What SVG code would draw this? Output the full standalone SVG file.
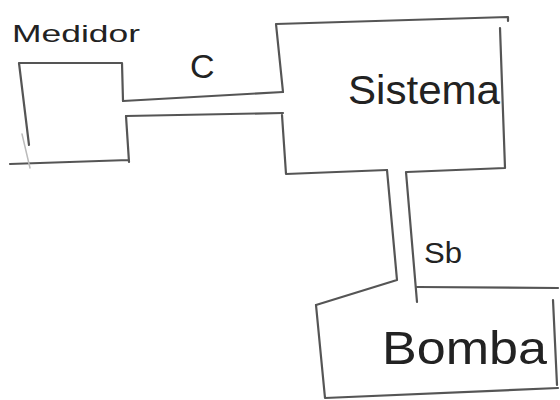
<svg xmlns="http://www.w3.org/2000/svg" width="560" height="400" viewBox="0 0 560 400">
<style>
.ln{fill:none;stroke:#555;stroke-width:2.2;stroke-linecap:round;stroke-linejoin:round}
.faint{fill:none;stroke:#bbb;stroke-width:1.5;stroke-linecap:round}
.t{font-family:"Liberation Sans",Arial,sans-serif;fill:#222}
</style>
<rect width="560" height="400" fill="#fff"/>
<g id="medidor">
<path class="ln" d="M29,145 L19,63 L122,63 L123,101 M126,116 L129,162 M10,164 L129,160"/>
<path class="faint" d="M22,134 L30,168"/>
<text class="t" x="12" y="42" font-size="24" textLength="128" lengthAdjust="spacingAndGlyphs">Medidor</text>
</g>
<g id="sistema">
<path class="ln" d="M283,92 L276,24 L508,17 L508,21 M500,28 L505,168 L407,172 M387,170 L286,174 L282,115"/>
<text class="t" x="348" y="104" font-size="40" textLength="152" lengthAdjust="spacingAndGlyphs">Sistema</text>
</g>
<g id="bomba">
<path class="ln" d="M316,305 L325,398 L558,388 M417,287 L558,288 M553,300 L557,385"/>
<text class="t" x="382" y="364" font-size="46" textLength="165" lengthAdjust="spacingAndGlyphs">Bomba</text>
</g>
<g id="connectors">
<path class="ln" d="M123,101 L283,92 M126,116 L283,113"/>
<path class="ln" d="M387,170 L397,280 L316,305 M406,172 L417,302"/>
<text class="t" x="190" y="78" font-size="34">C</text>
<text class="t" x="424" y="263" font-size="30" textLength="38" lengthAdjust="spacingAndGlyphs">Sb</text>
</g>
</svg>
